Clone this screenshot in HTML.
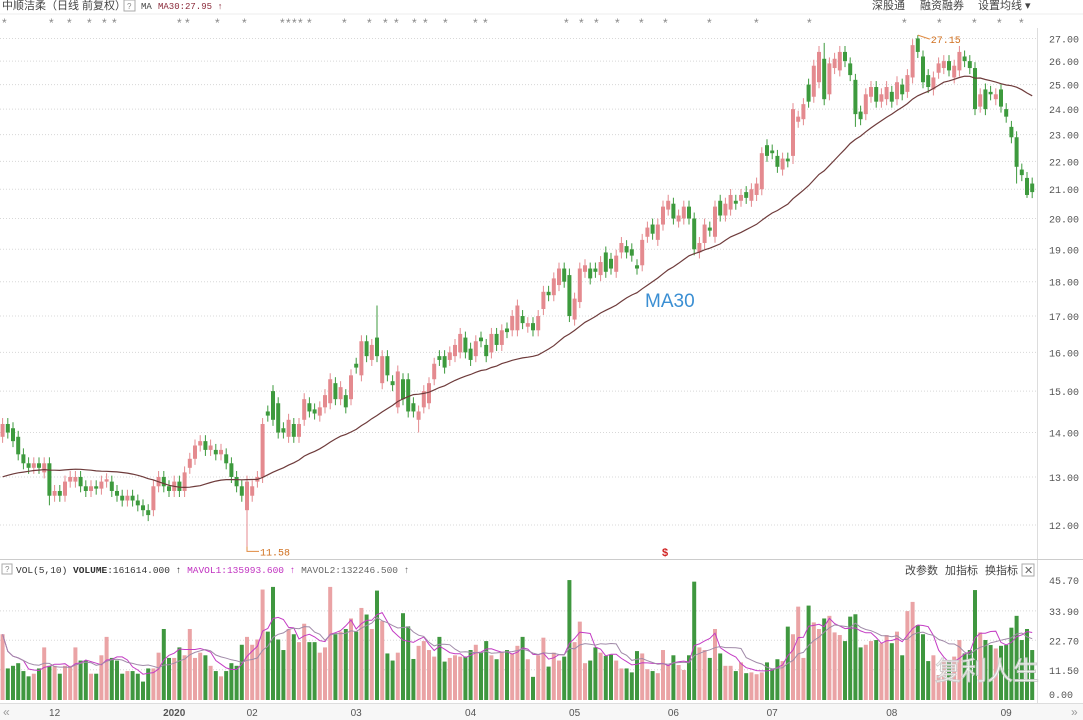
<!DOCTYPE html>
<html><head><meta charset="utf-8"><style>
body{margin:0;background:#fff;width:1083px;height:720px;overflow:hidden;font-family:"Liberation Sans","Noto Sans CJK SC",sans-serif}
svg{display:block}
</style></head><body>
<svg id="chart" width="1083" height="720" viewBox="0 0 1083 720" xmlns="http://www.w3.org/2000/svg" font-family="Liberation Sans, Noto Sans CJK SC, sans-serif">
<g font-size="11">
<text x="2" y="9" fill="#444">中顺洁柔（日线 前复权）</text>
<rect x="124" y="0" width="11" height="11" fill="none" stroke="#aaa"/>
<text x="127" y="9" font-size="8" fill="#888">?</text>
<text x="141" y="9" font-size="9" fill="#444" font-family="Liberation Mono, monospace">MA</text>
<text x="158" y="9" font-size="9" fill="#8b2a3a" font-family="Liberation Mono, monospace">MA30:27.95 ↑</text>
<text x="872" y="9" fill="#444">深股通</text>
<text x="920" y="9" fill="#444">融资融券</text>
<text x="978" y="9" fill="#444">设置均线 ▾</text>
</g>
<line x1="0" y1="14" x2="1083" y2="14" stroke="#eee"/>
<g id="stars" font-size="12" fill="#888"></g>
<g id="grid"></g>
<line x1="1037.5" y1="28" x2="1037.5" y2="703" stroke="#ddd"/>
<g id="yticks" font-size="10" fill="#555" font-family="Liberation Mono, monospace"></g>
<g id="candles"></g>
<path id="ma30" fill="none" stroke="#6e3b3b" stroke-width="1.2"/>
<g font-size="10">
<path id="lowMark" fill="none" stroke="#e08a40"/>
<text id="lowText" fill="#d07020" font-family="Liberation Mono, monospace">11.58</text>
<path id="highMark" fill="none" stroke="#e08a40"/>
<text id="highText" fill="#d07020" font-family="Liberation Mono, monospace">27.15</text>
<text x="662" y="556" fill="#d02020" font-size="11" font-weight="bold">$</text>
<text x="645" y="307" fill="#3b8fd3" font-size="19">MA30</text>
</g>
<line x1="0" y1="559.5" x2="1083" y2="559.5" stroke="#ccc"/>
<g font-size="10">
<rect x="2" y="564" width="10" height="10" fill="none" stroke="#aaa"/>
<text x="5" y="572" font-size="8" fill="#888">?</text>
<text x="16" y="573" fill="#333" font-family="Liberation Mono, monospace" font-size="9.5">VOL(5,10) <tspan font-weight="bold">VOLUME</tspan>:161614.000 ↑ <tspan fill="#c030c0">MAVOL1:135993.600 ↑</tspan> <tspan fill="#666">MAVOL2:132246.500 ↑</tspan></text>
<text x="905" y="574" font-size="11" fill="#444">改参数</text>
<text x="945" y="574" font-size="11" fill="#444">加指标</text>
<text x="985" y="574" font-size="11" fill="#444">换指标</text>
<rect x="1022" y="564" width="12" height="12" fill="none" stroke="#aaa"/>
<text x="1024" y="574" font-size="11" fill="#666">✕</text>
</g>
<g id="vgrid"></g>
<g id="vyticks" font-size="10" fill="#555" font-family="Liberation Mono, monospace"></g>
<g id="vols"></g>
<path id="mav1" fill="none" stroke="#c43cc4" stroke-width="1"/>
<path id="mav2" fill="none" stroke="#a08aa8" stroke-width="1"/>
<text x="935" y="680" font-size="26" fill="#fff" stroke="#ccc" stroke-width="1" opacity="0.9">复利人生</text>
<rect x="0" y="703" width="1083" height="17" fill="#f7f7f7"/>
<line x1="0" y1="703.5" x2="1083" y2="703.5" stroke="#ddd"/>
<g id="xticks" font-size="10" fill="#555"></g>
<text x="3" y="716" font-size="12" fill="#999">«</text>
<text x="1071" y="716" font-size="12" fill="#999">»</text>
</svg>
<script>
const opens=[13.9,14.2,14.1,13.9,13.5,13.3,13.2,13.3,13.1,13.3,12.6,12.7,12.6,12.9,12.9,13.0,12.8,12.7,12.8,12.75,12.9,12.9,12.7,12.6,12.5,12.6,12.5,12.4,12.3,12.3,12.8,13.0,12.8,12.7,12.9,12.7,13.2,13.4,13.7,13.8,13.6,13.6,13.5,13.5,13.3,13.0,12.8,12.3,12.6,12.9,
13.0,14.5,15.0,14.7,14.1,13.9,14.2,13.9,14.3,14.7,14.55,14.4,14.6,14.7,15.2,14.8,14.9,14.8,15.7,15.4,16.3,15.8,16.4,15.2,15.9,15.25,14.6,15.3,15.3,14.7,14.3,14.6,14.7,15.3,15.9,15.9,15.8,15.9,16.0,16.4,16.1,15.9,16.4,16.2,16.0,16.5,16.2,16.65,16.6,16.6,17.0,16.7,16.8,16.6,
17.2,17.7,17.6,17.9,18.4,18.2,16.9,17.4,18.3,18.4,18.4,18.2,18.9,18.7,18.3,18.9,19.1,19.0,18.5,18.5,19.4,19.8,19.3,19.8,20.3,20.5,19.9,20.0,20.4,20.0,18.9,19.2,19.7,19.4,20.6,20.1,20.3,20.6,20.6,20.9,20.6,20.8,21.0,22.6,22.4,22.2,
21.7,22.1,22.2,23.5,23.6,25.0,24.5,25.1,26.1,24.6,25.7,25.6,26.4,25.9,25.2,23.9,23.8,24.5,24.9,24.3,24.4,24.7,24.4,25.0,24.7,25.3,27.0,26.2,25.4,24.8,25.5,25.7,26.0,25.3,25.6,26.2,26.0,25.7,24.1,24.8,24.7,24.4,24.8,24.0,23.3,22.9,21.7,21.4,21.2];
const closes=[14.2,14.0,13.8,13.5,13.3,13.2,13.3,13.2,13.3,12.6,12.7,12.6,12.9,13.0,13.0,12.8,12.7,12.8,12.75,12.9,12.95,12.7,12.6,12.5,12.6,12.5,12.4,12.3,12.2,12.8,13.0,12.8,12.7,12.9,12.7,13.1,13.4,13.7,13.8,13.6,13.7,13.5,13.6,13.3,13.0,12.8,12.6,12.9,12.8,13.0,
14.2,14.4,14.3,14.0,14.0,14.3,13.9,14.2,14.8,14.5,14.45,14.6,14.9,15.3,14.8,15.1,14.6,15.4,15.6,16.3,15.9,16.2,15.9,15.9,15.4,15.15,15.5,14.8,14.5,14.5,14.5,15.0,15.2,15.7,15.8,15.6,16.0,16.2,16.5,16.0,15.8,16.3,16.3,15.9,16.5,16.2,16.6,16.55,17.0,17.3,16.8,16.8,16.6,17.0,
17.7,17.6,18.1,18.4,18.0,17.0,17.5,18.4,18.5,18.1,18.3,18.6,18.3,18.4,18.8,19.2,18.9,18.8,18.4,19.3,19.7,19.5,19.8,20.4,20.6,20.0,20.1,20.4,20.0,19.0,19.2,19.8,19.6,20.4,20.1,20.5,20.8,20.5,20.8,20.7,21.0,21.2,22.3,22.2,22.3,21.8,
22.1,22.0,24.0,23.7,24.2,24.3,25.8,26.4,24.4,25.9,26.1,26.4,26.0,25.4,23.8,23.6,24.6,24.9,24.3,24.6,24.9,24.3,25.1,24.6,25.4,26.7,26.4,25.1,24.9,25.3,25.9,26.0,25.6,25.8,26.4,26.0,25.7,24.0,24.6,24.0,24.6,24.6,24.1,23.7,22.9,21.8,21.5,20.8,20.9];
const priorCloses=[13.0,12.9,12.8,12.8,12.7,12.8,12.9,13.0,12.9,12.8,12.7,12.6,12.7,12.8,12.9,13.0,13.1,13.2,13.1,13.0,12.9,12.8,12.9,13.0,13.1,13.2,13.3,13.4,13.6];
const wickExtremes=[[47,'low',11.58],[176,'high',27.15],[72,'high',17.3],[80,'low',14.0],[152,'low',21.9],[158,'high',26.8],[164,'low',23.3],[195,'low',21.2],[197,'low',20.7],[109,'high',18.4],[9,'low',12.4]];
const volumes=[25,12,13,14,11,9,10,12,20,13,13,10,13,13,20,15,15,10,10,17,24,16,15,10,11,11,10,7,12,12,18,27,16,16,20,17,27,16,18,17,13,11,9,11,14,13,21,24,21,23,42,26,43,23,19,27,25,22,29,22,22,18,20,43,25,26,
27,31,26,35,32.5,27,41.6,30,17.7,15,18,33,28,15.6,20.6,22.4,19,16.5,24,14.6,16,17,16.5,16.5,19,21,18,22.4,17,15.5,18,19,17.7,20.6,24,15.5,8.8,17,23.7,12.7,18,15,16.5,45.6,22,29.8,14,15,20,18,16.8,17.2,15,12,12,10.5,18.6,17.7,11.7,11,10.2,19,13.3,17,13.3,11.4,17,45,
20,19,16,27,17.7,13,13,11,14.3,10.2,10.5,9.8,10.5,14.3,11.7,15.5,14.8,27.9,25,35.5,16,35.9,29.5,27,31,32,25.7,24.7,22.4,31.7,32.6,20,21,22.4,22.8,21.6,24.7,21.6,26,17,33.8,37.3,28.5,25,14.8,17,9.5,15.2,15.2,16.5,22.8,17.7,19,41.8,25.7,22.8,20.9,19.6,20.6,20.9,27.5,32,22.8,27,19];
const priceTicks=[12,13,14,15,16,17,18,19,20,21,22,23,24,25,26,27];
const volTickLabels=["45.70","33.90","22.70","11.50","0.00"];
const volTickValues=[45.7,33.9,22.7,11.5,0];
const monthLabels=["12","2020","02","03","04","05","06","07","08","09"];
const monthIndex=[10,33,48,68,90,110,129,148,171,193];
const starX=[5,52,70,90,105,115,180,188,218,245,283,289,295,301,310,345,370,386,397,415,426,446,476,486,567,582,597,618,642,666,710,757,810,905,940,975,1000,1022];

const NS='http://www.w3.org/2000/svg';
const STEP=5.2, X0=2.6, BW=4;
const xOf=i=>X0+i*STEP;
const yP=p=>525-600*Math.log(p/12);
const yV=v=>700-2.63*v;
const RED='#e48a8f', GREEN='#3d9a3d', VRED='#eaa3a5', VGREEN='#3f973f';
function mk(tag,attrs,parent){const e=document.createElementNS(NS,tag);for(const k in attrs)e.setAttribute(k,attrs[k]);parent.appendChild(e);return e;}

const grid=document.getElementById('grid'), yt=document.getElementById('yticks');
priceTicks.forEach(p=>{
  const y=yP(p);
  const l=mk('line',{x1:0,x2:1037,y1:y,y2:y,stroke:'#d8d8d8','stroke-dasharray':'1,2'},grid);
  
  
  const t=mk('text',{x:1049,y:y+4},yt);
  
  
  t.textContent=p.toFixed(2);
});
const stars=document.getElementById('stars');
starX.forEach(x=>{const t=mk('text',{x:x-3,y:27},stars);
  
  
  t.textContent='*';});

const hi=closes.map((c,i)=>Math.max(c,opens[i])*1.01);
const lo=closes.map((c,i)=>Math.min(c,opens[i])*0.99);
wickExtremes.forEach(([i,k,v])=>{if(k==='high')hi[i]=v;else lo[i]=v;});

const cg=document.getElementById('candles');
closes.forEach((c,i)=>{
  const o=opens[i], up=c>=o, col=up?RED:GREEN, x=xOf(i);
  const g=mk('g',{},cg);
  
  
  mk('line',{x1:x,x2:x,y1:yP(hi[i]),y2:yP(lo[i]),stroke:col,'stroke-width':1},g);
  const top=yP(Math.max(o,c)), bot=yP(Math.min(o,c));
  mk('rect',{x:x-BW/2,y:top,width:BW,height:Math.max(1,bot-top),fill:col},g);
});
const all=priorCloses.concat(closes);
let d='';
closes.forEach((c,i)=>{const s=all.slice(i,i+30);const m=s.reduce((a,b)=>a+b,0)/s.length;d+=(i?'L':'M')+xOf(i).toFixed(1)+','+yP(m).toFixed(1);});
document.getElementById('ma30').setAttribute('d',d);

let li=0,hiI=0;lo.forEach((v,i)=>{if(v<lo[li])li=i;});hi.forEach((v,i)=>{if(v>hi[hiI])hiI=i;});
const lx=xOf(li), ly=yP(lo[li]);
document.getElementById('lowMark').setAttribute('d',`M${lx},${ly} L${lx},${ly+5} L${lx+12},${ly+5}`);
const lt=document.getElementById('lowText');lt.setAttribute('x',lx+13);lt.setAttribute('y',ly+9);lt.textContent=lo[li].toFixed(2);
const hx=xOf(hiI), hy=yP(hi[hiI]);
document.getElementById('highMark').setAttribute('d',`M${hx},${hy} L${hx+12},${hy+4}`);
const ht=document.getElementById('highText');ht.setAttribute('x',hx+13);ht.setAttribute('y',hy+8);ht.textContent=hi[hiI].toFixed(2);

const vg=document.getElementById('vgrid'), vyt=document.getElementById('vyticks');
volTickValues.forEach((v,k)=>{
  const y=yV(v);
  if(v>0&&v<45){const l=mk('line',{x1:0,x2:1037,y1:y,y2:y,stroke:'#d8d8d8','stroke-dasharray':'1,2'},vg);
    
    }
  const t=mk('text',{x:1049,y:Math.min(y+4,698)},vyt);
  
  
  t.textContent=volTickLabels[k];
});
const vb=document.getElementById('vols');
volumes.forEach((v,i)=>{
  const up=closes[i]>=opens[i];
  const r=mk('rect',{x:xOf(i)-BW/2,y:yV(v),width:BW,height:700-yV(v),fill:up?VRED:VGREEN},vb);
  
  
});
function maPath(n){let p='';volumes.forEach((v,i)=>{const s=volumes.slice(Math.max(0,i-n+1),i+1);const m=s.reduce((a,b)=>a+b,0)/s.length;p+=(i?'L':'M')+xOf(i).toFixed(1)+','+yV(m).toFixed(1);});return p;}
document.getElementById('mav1').setAttribute('d',maPath(5));
document.getElementById('mav2').setAttribute('d',maPath(10));

const xt=document.getElementById('xticks');
monthLabels.forEach((m,k)=>{
  const t=mk('text',{x:xOf(monthIndex[k]),y:716,'text-anchor':'middle','font-weight':m==='2020'?'bold':'normal'},xt);
  
  
  t.textContent=m;
});
</script>
</body></html>
